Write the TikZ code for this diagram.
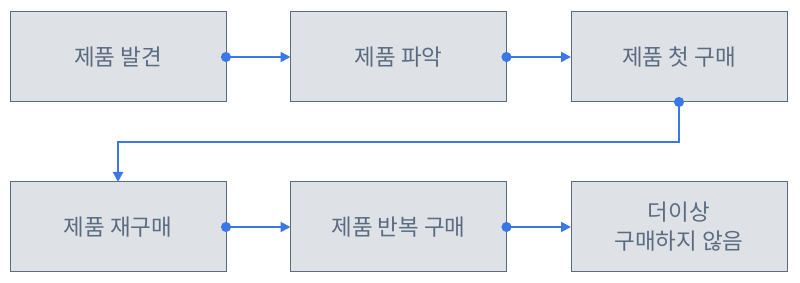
\documentclass[tikz,border=0pt]{standalone}
\usepackage{fontspec}
\setmainfont{Noto Sans CJK KR}
\usetikzlibrary{arrows.meta,positioning}
\definecolor{boxfill}{HTML}{DEE1E6}
\definecolor{boxline}{HTML}{5B6C82}
\definecolor{flow}{HTML}{3A78E8}
\begin{document}
\begin{tikzpicture}[
    x=1pt, y=1pt,
    font=\fontsize{22.5}{29}\selectfont,
    box/.style={draw=boxline, fill=boxfill, text=boxline, line width=1pt, outer sep=0pt, align=center, inner sep=0pt, minimum width=216pt, minimum height=90pt},
    arrow/.style={flow, line width=2pt, {Circle[length=10pt]}-{Triangle[length=10pt, width=10pt]}, shorten <=-5pt}
  ]
    \useasboundingbox (0,0) rectangle (800,283);
    \node[box] (find) at (118,226) {제품 발견};
    \node[box, right=64.5pt of find] (grasp) {제품 파악};
    \node[box, right=64.5pt of grasp] (first) {제품 첫 구매};
    \node[box, below=80pt of find] (rebuy) {제품 재구매};
    \node[box, right=64.5pt of rebuy] (repeat) {제품 반복 구매};
    \node[box, right=64.5pt of repeat] (stop) {더이상\\구매하지 않음};

    \draw[arrow] (find) -- (grasp);
    \draw[arrow] (grasp) -- (first);
    \draw[arrow] (first.south) -- ++(0,-40) -| (rebuy.north);
    \draw[arrow] (rebuy) -- (repeat);
    \draw[arrow] (repeat) -- (stop);
  \end{tikzpicture}
\end{document}
